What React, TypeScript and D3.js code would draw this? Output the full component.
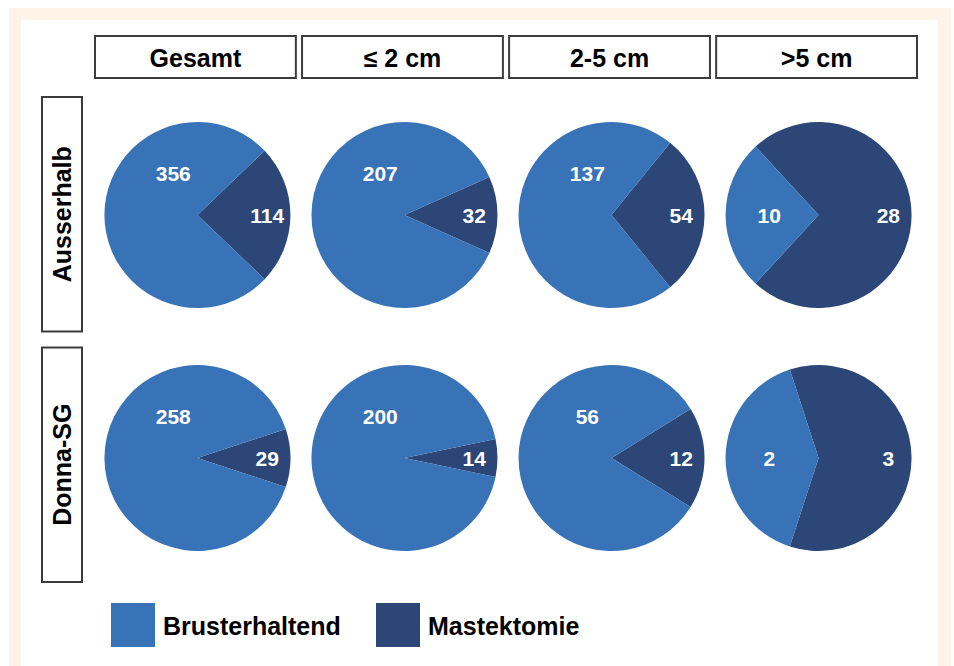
import React from "react";
import * as d3 from "d3";

const columns = ["Gesamt", "≤ 2 cm", "2-5 cm", ">5 cm"];
const rows = ["Ausserhalb", "Donna-SG"];
const brusterhaltendAusserhalb = [356, 207, 137, 10];
const mastektomieAusserhalb = [114, 32, 54, 28];
const brusterhaltendDonna = [258, 200, 56, 2];
const mastektomieDonna = [29, 14, 12, 3];
const legendLabels = ["Brusterhaltend", "Mastektomie"];

const W = 954;
const H = 666;
const LIGHT = "#3872b7";
const DARK = "#2c4677";
const BORDER = "#3d3a3a";
const FONT = "Liberation Sans, Arial, sans-serif";
const R = 93;

export default function App() {
  const colScale = d3.scaleBand<string>().domain(columns).range([95, 917]).paddingInner(0.03);
  const rowScale = d3.scaleBand<string>().domain(rows).range([97, 582]).paddingInner(0.064);
  const pieY = d3.scalePoint<string>().domain(rows).range([215, 458]);
  const arc = d3.arc<any>().innerRadius(0).outerRadius(R);

  const seriesByRow: Record<string, [number[], number[]]> = {
    Ausserhalb: [brusterhaltendAusserhalb, mastektomieAusserhalb],
    "Donna-SG": [brusterhaltendDonna, mastektomieDonna],
  };

  const pies: React.ReactNode[] = [];
  rows.forEach((row) => {
    const [light, dark] = seriesByRow[row];
    columns.forEach((col, ci) => {
      const cx = (colScale(col) as number) + colScale.bandwidth() / 2 + 2;
      const cy = pieY(row) as number;
      const values = [dark[ci], light[ci]];
      const total = values[0] + values[1];
      const start = Math.PI / 2 - (Math.PI * values[0]) / total;
      const arcs = d3
        .pie<number>()
        .sort(null)
        .startAngle(start)
        .endAngle(start + 2 * Math.PI)(values);
      arcs.forEach((a, i) => {
        const span = a.endAngle - a.startAngle;
        let mid = (a.startAngle + a.endAngle) / 2;
        let rr: number;
        if (i === 0) {
          rr = 0.75 * R;
        } else {
          rr = span > Math.PI ? 0.52 * R : 0.53 * R;
          if (span > Math.PI) mid += Math.PI / 3;
        }
        const lx = Math.sin(mid) * rr;
        const ly = -Math.cos(mid) * rr;
        pies.push(
          <g key={`${row}-${col}-${i}`} transform={`translate(${cx},${cy})`}>
            <path d={arc(a) as string} fill={i === 0 ? DARK : LIGHT} />
          </g>
        );
        pies.push(
          <text
            key={`${row}-${col}-${i}-t`}
            x={cx + lx}
            y={cy + ly}
            textAnchor="middle"
            dominantBaseline="central"
            fill="#ffffff"
            fontFamily={FONT}
            fontWeight="bold"
            fontSize={21}
          >
            {a.data}
          </text>
        );
      });
    });
  });

  const legendX = d3.scalePoint<string>().domain(legendLabels).range([111, 376]);

  return (
    <svg
      width={W}
      height={H}
      style={{ position: "absolute", left: 0, top: 0, background: "#ffffff" }}
    >
      <rect x={9} y={8} width={942} height={H - 8} fill="#fdf3e6" />
      <rect x={21} y={20} width={917} height={H - 20} fill="#ffffff" />
      {columns.map((c) => (
        <g key={c}>
          <rect
            x={colScale(c)}
            y={36}
            width={colScale.bandwidth()}
            height={42}
            fill="#ffffff"
            stroke={BORDER}
            strokeWidth={2}
          />
          <text
            x={(colScale(c) as number) + colScale.bandwidth() / 2}
            y={58}
            textAnchor="middle"
            dominantBaseline="central"
            fontFamily={FONT}
            fontWeight="bold"
            fontSize={25}
            fill="#000"
          >
            {c}
          </text>
        </g>
      ))}
      {rows.map((r) => {
        const y0 = rowScale(r) as number;
        const cy = y0 + rowScale.bandwidth() / 2;
        return (
          <g key={r}>
            <rect
              x={42}
              y={y0}
              width={40}
              height={rowScale.bandwidth()}
              fill="#ffffff"
              stroke={BORDER}
              strokeWidth={2}
            />
            <text
              transform={`translate(62,${cy}) rotate(-90)`}
              textAnchor="middle"
              dominantBaseline="central"
              fontFamily={FONT}
              fontWeight="bold"
              fontSize={25}
              fill="#000"
            >
              {r}
            </text>
          </g>
        );
      })}
      {pies}
      {legendLabels.map((l, i) => (
        <g key={l}>
          <rect x={legendX(l)} y={603} width={44} height={44} fill={i === 0 ? LIGHT : DARK} />
          <text
            x={(legendX(l) as number) + 52}
            y={626}
            dominantBaseline="central"
            fontFamily={FONT}
            fontWeight="bold"
            fontSize={25}
            fill="#000"
          >
            {l}
          </text>
        </g>
      ))}
    </svg>
  );
}
